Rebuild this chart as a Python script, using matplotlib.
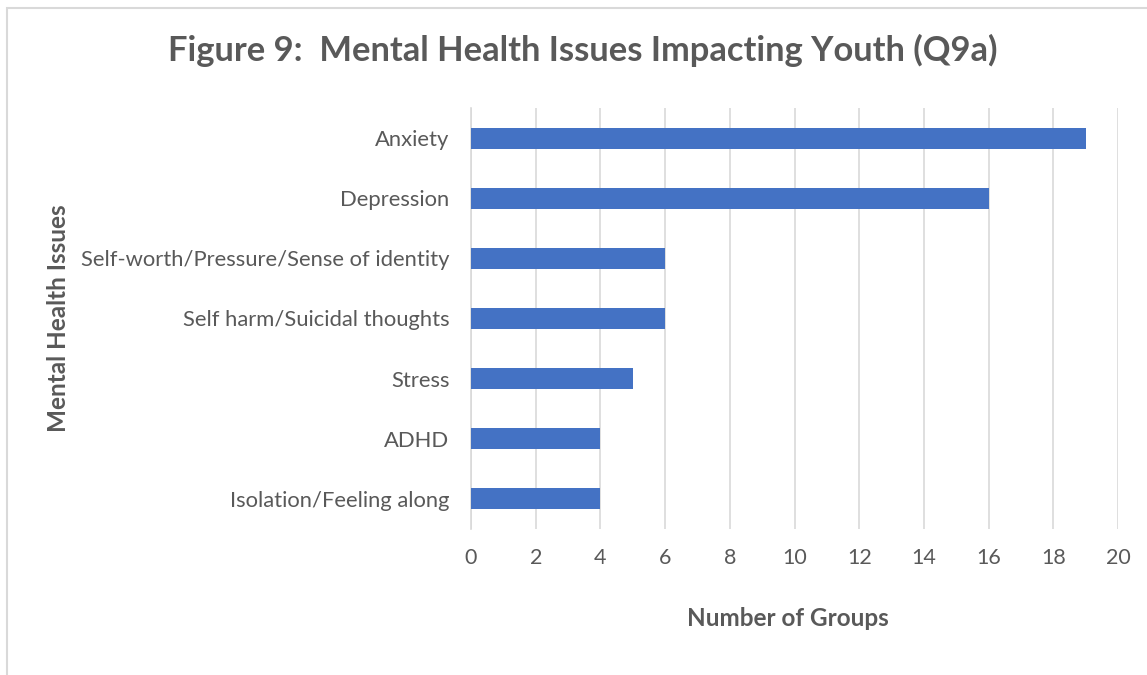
import matplotlib
matplotlib.use("Agg")
import matplotlib.pyplot as plt
from matplotlib.patches import Rectangle

categories = ["Anxiety", "Depression", "Self-worth/Pressure/Sense of identity",
              "Self harm/Suicidal thoughts", "Stress", "ADHD", "Isolation/Feeling along"]
values = [19, 16, 6, 6, 5, 4, 4]
xticks = list(range(0, 21, 2))

plt.rcParams['font.family'] = ['Lato', 'DejaVu Sans']
txt = '#595959'
grid = '#d9d9d9'
bar_c = '#4472c4'

fig = plt.figure(figsize=(11.47, 6.75), dpi=100)
ax = fig.add_axes([471/1147, 1-529/675, (1118-471)/1147, (529-108)/675])

pos = list(range(len(categories)))[::-1]
ax.barh(pos, values, height=0.35, color=bar_c, zorder=3)
ax.set_xlim(0, 20)
ax.set_ylim(-0.5, len(categories)-0.5)
ax.set_xticks(xticks)
ax.set_xticklabels([str(t) for t in xticks], fontsize=15.5, color=txt)
ax.set_yticks(pos)
ax.set_yticklabels(categories, fontsize=15.8, color=txt)
ax.tick_params(axis='both', length=0)
ax.tick_params(axis='x', pad=14)
ax.tick_params(axis='y', pad=15.5)
ax.grid(axis='x', color=grid, linewidth=1.2, zorder=0)
for s in ['top', 'right', 'bottom']:
    ax.spines[s].set_visible(False)
ax.spines['left'].set_color(grid)
ax.spines['left'].set_linewidth(1.2)

fig.text(583/1147, 1-50/675, "Figure 9:  Mental Health Issues Impacting Youth (Q9a)",
         ha='center', va='center', fontsize=24.8, fontweight='bold', color=txt)
fig.text(58/1147, 1-318/675, "Mental Health Issues", rotation=90, ha='center', va='center',
         fontsize=17.5, fontweight='bold', color=txt)
fig.text(788/1147, 1-618/675, "Number of Groups", ha='center', va='center',
         fontsize=17.5, fontweight='bold', color=txt)

fig.patches.append(Rectangle((7/1147, -0.1), 1.2, 1-8/675+0.1, transform=fig.transFigure,
                             fill=False, edgecolor=grid, linewidth=1.5))

fig.savefig("out.png", dpi=100)
